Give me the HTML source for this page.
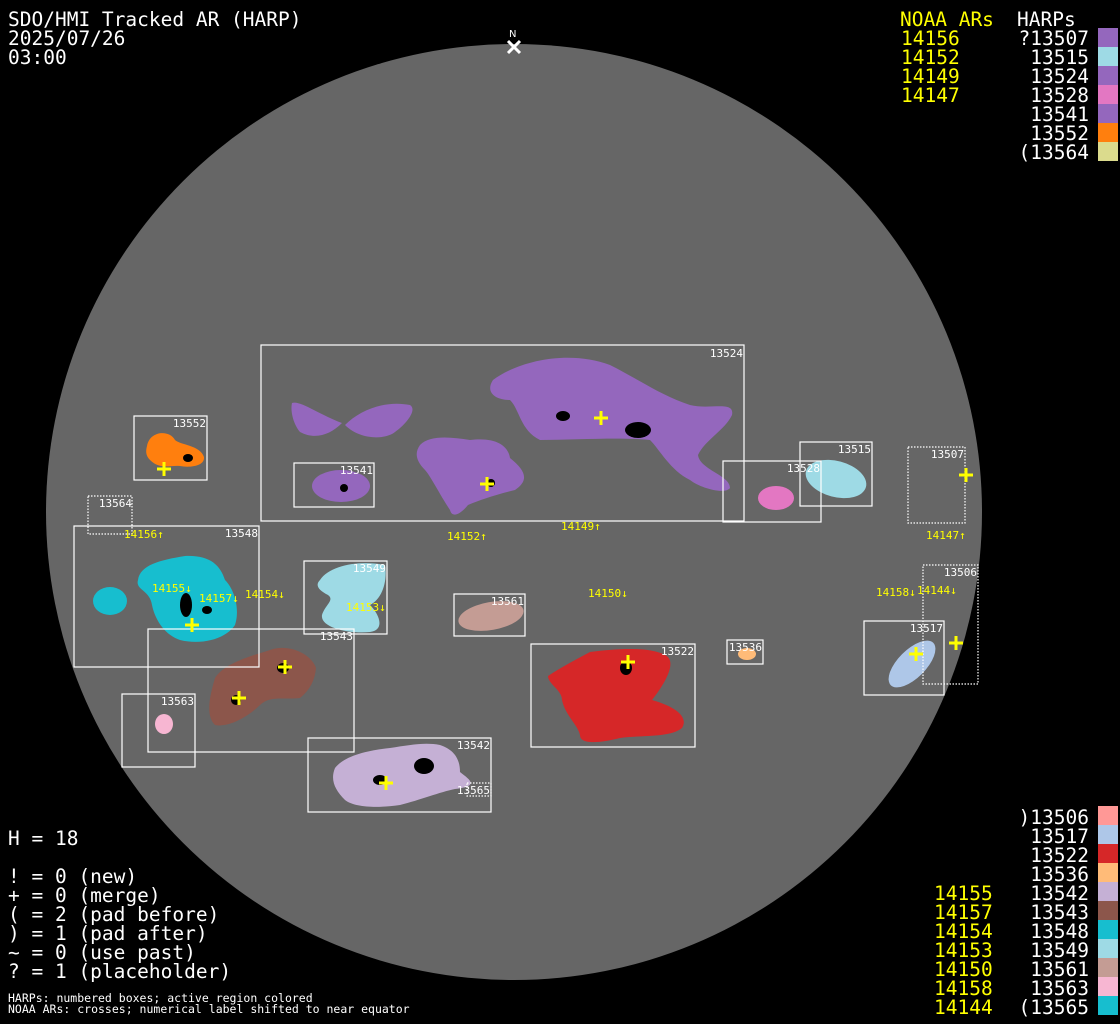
<!DOCTYPE html>
<html><head><meta charset="utf-8"><style>
html,body{margin:0;padding:0;background:#000;}
svg{display:block}
.t{font-family:"DejaVu Sans Mono","Liberation Mono",monospace;font-size:19.5px;fill:#fff}
.y{fill:#ffff00}
.s{font-family:"DejaVu Sans Mono","Liberation Mono",monospace;font-size:11px;fill:#fff}
.sy{font-family:"DejaVu Sans Mono","Liberation Mono",monospace;font-size:11px;fill:#ffff00}
.b{fill:none;stroke:#fff;stroke-width:1.2}
.d{fill:none;stroke:#fff;stroke-width:1.2;stroke-dasharray:1.5 1.5}
.x{stroke:#ffff00;stroke-width:3}
.k{fill:#000}
</style></head><body>
<svg width="1120" height="1024" viewBox="0 0 1120 1024" xmlns="http://www.w3.org/2000/svg">
<rect width="1120" height="1024" fill="#000"/>
<circle cx="514" cy="512" r="468" fill="#666"/>
<!-- N marker -->
<text x="509" y="37" font-family="DejaVu Sans" font-size="10" fill="#fff">N</text>
<path d="M508 41 L520 53 M520 41 L508 53" stroke="#fff" stroke-width="3"/>

<!-- blobs -->
<g fill="#9467bd">
<path d="M493 380 C520 360 570 350 610 365 C640 380 660 395 690 405 C710 410 735 400 732 415 C725 430 705 440 698 455 C700 470 730 475 730 488 C725 495 700 488 690 480 C670 470 660 450 650 440 C620 437 575 440 540 440 C520 430 520 410 510 400 C495 400 485 392 493 380 Z"/>
<path d="M292 403 C300 400 320 415 342 423 C330 435 315 440 300 432 C294 425 290 412 292 403 Z"/>
<path d="M345 425 C360 410 385 400 410 405 C418 410 405 425 395 432 C385 440 360 440 345 425 Z"/>
<path d="M420 445 C430 435 450 437 470 440 C495 437 508 445 510 458 C525 470 530 480 515 490 C495 495 480 500 468 505 C460 515 452 518 450 510 C440 495 430 475 425 470 C415 460 415 452 420 445 Z"/>
<ellipse cx="341" cy="486" rx="29" ry="16"/>
</g>
<ellipse cx="836" cy="479" rx="31" ry="18" fill="#9edae5" transform="rotate(15 836 479)"/>
<ellipse cx="776" cy="498" rx="18" ry="12" fill="#e377c2"/>
<path d="M147 446 C150 430 170 430 175 440 C180 445 200 445 204 457 C205 466 190 468 180 466 C170 465 160 470 150 460 C145 455 146 450 147 446 Z" fill="#ff7f0e"/>
<g fill="#17becf">
<path d="M138 580 C140 565 160 560 185 556 C210 555 220 565 225 580 C235 590 240 610 235 625 C225 640 200 645 180 640 C165 635 155 620 152 605 C150 590 135 590 138 580 Z"/>
<ellipse cx="110" cy="601" rx="17" ry="14"/>
</g>
<path d="M320 580 C330 565 360 560 385 565 C388 585 380 600 370 605 C380 615 385 630 370 632 C350 634 320 628 322 615 C325 605 335 600 328 595 C318 590 315 585 320 580 Z" fill="#9edae5"/>
<path d="M215 678 C225 662 255 655 270 650 C290 643 312 655 316 668 C315 680 310 690 300 698 C285 700 270 695 260 705 C250 715 230 728 215 725 C205 715 210 695 215 678 Z" fill="#8c564b"/>
<ellipse cx="164" cy="724" rx="9" ry="10" fill="#f7b6d2"/>
<path d="M335 768 C345 755 370 750 390 748 C410 745 425 742 440 745 C455 750 460 760 460 772 C470 780 480 786 455 789 C440 792 420 800 400 805 C380 808 355 808 345 800 C335 790 330 780 335 768 Z" fill="#c5b0d5"/>
<ellipse cx="491" cy="616" rx="33" ry="14" fill="#c49c94" transform="rotate(-10 491 616)"/>
<path d="M548 676 C560 668 575 660 590 652 C620 648 650 647 665 655 C680 662 660 690 652 700 C670 705 690 715 682 728 C670 738 640 735 620 738 C600 743 580 745 580 735 C578 725 565 715 562 700 C562 690 548 684 548 676 Z" fill="#d62728"/>
<ellipse cx="747" cy="654" rx="9" ry="6" fill="#ffbb78"/>
<ellipse cx="912" cy="664" rx="30" ry="14" fill="#aec7e8" transform="rotate(-45 912 664)"/>

<!-- sunspots -->
<g class="k">
<ellipse cx="638" cy="430" rx="13" ry="8"/><ellipse cx="563" cy="416" rx="7" ry="5"/>
<ellipse cx="424" cy="766" rx="10" ry="8"/><ellipse cx="188" cy="458" rx="5" ry="4"/>
<ellipse cx="283" cy="668" rx="6" ry="5"/><ellipse cx="236" cy="700" rx="5" ry="5"/>
<ellipse cx="626" cy="668" rx="6" ry="7"/><ellipse cx="186" cy="605" rx="6" ry="12"/>
<ellipse cx="207" cy="610" rx="5" ry="4"/><ellipse cx="380" cy="780" rx="7" ry="5"/>
<ellipse cx="491" cy="483" rx="4" ry="4"/><ellipse cx="344" cy="488" rx="4" ry="4"/>
</g>

<!-- boxes -->
<rect class="b" x="261" y="345" width="483" height="176"/>
<rect class="b" x="294" y="463" width="80" height="44"/>
<rect class="b" x="134" y="416" width="73" height="64"/>
<rect class="d" x="88" y="496" width="44" height="38"/>
<rect class="b" x="74" y="526" width="185" height="141"/>
<rect class="b" x="304" y="561" width="83" height="73"/>
<rect class="b" x="148" y="629" width="206" height="123"/>
<rect class="b" x="122" y="694" width="73" height="73"/>
<rect class="b" x="308" y="738" width="183" height="74"/>
<rect class="d" x="467" y="783" width="24" height="13"/>
<rect class="b" x="454" y="594" width="71" height="42"/>
<rect class="b" x="531" y="644" width="164" height="103"/>
<rect class="b" x="727" y="640" width="36" height="24"/>
<rect class="b" x="723" y="461" width="98" height="61"/>
<rect class="b" x="800" y="442" width="72" height="64"/>
<rect class="d" x="908" y="447" width="57" height="76"/>
<rect class="d" x="923" y="565" width="55" height="119"/>
<rect class="b" x="864" y="621" width="80" height="74"/>

<!-- box labels -->
<g class="s" text-anchor="end">
<text x="743" y="357">13524</text><text x="373" y="474">13541</text>
<text x="206" y="427">13552</text><text x="132" y="507">13564</text>
<text x="258" y="537">13548</text><text x="386" y="572">13549</text>
<text x="353" y="640">13543</text><text x="194" y="705">13563</text>
<text x="490" y="749">13542</text><text x="490" y="794">13565</text>
<text x="524" y="605">13561</text><text x="694" y="655">13522</text>
<text x="762" y="651">13536</text><text x="820" y="472">13528</text>
<text x="871" y="453">13515</text><text x="964" y="458">13507</text>
<text x="977" y="576">13506</text><text x="943" y="632">13517</text>
</g>

<!-- crosses -->
<g class="x">
<path d="M157 469h14M164 462v14"/><path d="M594 418h14M601 411v14"/>
<path d="M480 484h14M487 477v14"/><path d="M959 475h14M966 468v14"/>
<path d="M185 625h14M192 618v14"/><path d="M278 667h14M285 660v14"/>
<path d="M232 698h14M239 691v14"/><path d="M621 662h14M628 655v14"/>
<path d="M909 654h14M916 647v14"/><path d="M949 643h14M956 636v14"/>
<path d="M379 783h14M386 776v14"/>
</g>

<!-- NOAA labels -->
<g class="sy">
<text x="124" y="538">14156↑</text><text x="447" y="540">14152↑</text>
<text x="561" y="530">14149↑</text><text x="926" y="539">14147↑</text>
<text x="152" y="592">14155↓</text><text x="199" y="602">14157↓</text>
<text x="245" y="598">14154↓</text><text x="346" y="611">14153↓</text>
<text x="588" y="597">14150↓</text><text x="876" y="596">14158↓</text>
<text x="917" y="594">14144↓</text>
</g>

<!-- header -->
<text class="t" x="8" y="26">SDO/HMI Tracked AR (HARP)</text>
<text class="t" x="8" y="45">2025/07/26</text>
<text class="t" x="8" y="64">03:00</text>

<!-- top right legend -->
<text class="t y" x="900" y="26">NOAA ARs</text>
<text class="t" x="1017" y="26">HARPs</text>
<g class="t y"><text x="901" y="45">14156</text><text x="901" y="64">14152</text><text x="901" y="83">14149</text><text x="901" y="102">14147</text></g>
<g class="t" text-anchor="end">
<text x="1089" y="45">?13507</text><text x="1089" y="64">13515</text><text x="1089" y="83">13524</text>
<text x="1089" y="102">13528</text><text x="1089" y="121">13541</text><text x="1089" y="140">13552</text><text x="1089" y="159">(13564</text>
</g>
<rect x="1098" y="28" width="20" height="19" fill="#9467bd"/>
<rect x="1098" y="47" width="20" height="19" fill="#9edae5"/>
<rect x="1098" y="66" width="20" height="19" fill="#9467bd"/>
<rect x="1098" y="85" width="20" height="19" fill="#e377c2"/>
<rect x="1098" y="104" width="20" height="19" fill="#9467bd"/>
<rect x="1098" y="123" width="20" height="19" fill="#ff7f0e"/>
<rect x="1098" y="142" width="20" height="19" fill="#dbdb8d"/>

<!-- bottom right legend -->
<g class="t" text-anchor="end">
<text x="1089" y="824">)13506</text><text x="1089" y="843">13517</text><text x="1089" y="862">13522</text>
<text x="1089" y="881">13536</text><text x="1089" y="900">13542</text><text x="1089" y="919">13543</text>
<text x="1089" y="938">13548</text><text x="1089" y="957">13549</text><text x="1089" y="976">13561</text>
<text x="1089" y="995">13563</text><text x="1089" y="1014">(13565</text>
</g>
<g class="t y">
<text x="934" y="900">14155</text><text x="934" y="919">14157</text><text x="934" y="938">14154</text>
<text x="934" y="957">14153</text><text x="934" y="976">14150</text><text x="934" y="995">14158</text><text x="934" y="1014">14144</text>
</g>
<rect x="1098" y="806" width="20" height="19" fill="#ff9896"/>
<rect x="1098" y="825" width="20" height="19" fill="#aec7e8"/>
<rect x="1098" y="844" width="20" height="19" fill="#d62728"/>
<rect x="1098" y="863" width="20" height="19" fill="#ffbb78"/>
<rect x="1098" y="882" width="20" height="19" fill="#c5b0d5"/>
<rect x="1098" y="901" width="20" height="19" fill="#8c564b"/>
<rect x="1098" y="920" width="20" height="19" fill="#17becf"/>
<rect x="1098" y="939" width="20" height="19" fill="#9edae5"/>
<rect x="1098" y="958" width="20" height="19" fill="#c49c94"/>
<rect x="1098" y="977" width="20" height="19" fill="#f7b6d2"/>
<rect x="1098" y="996" width="20" height="19" fill="#17becf"/>

<!-- bottom left -->
<text class="t" x="8" y="845">H = 18</text>
<text class="t" x="8" y="883">! = 0 (new)</text>
<text class="t" x="8" y="902">+ = 0 (merge)</text>
<text class="t" x="8" y="921">( = 2 (pad before)</text>
<text class="t" x="8" y="940">) = 1 (pad after)</text>
<text class="t" x="8" y="959">~ = 0 (use past)</text>
<text class="t" x="8" y="978">? = 1 (placeholder)</text>
<text class="s" x="8" y="1002" style="font-size:11.5px">HARPs: numbered boxes; active region colored</text>
<text class="s" x="8" y="1013" style="font-size:11.5px">NOAA ARs: crosses; numerical label shifted to near equator</text>
</svg>
</body></html>
